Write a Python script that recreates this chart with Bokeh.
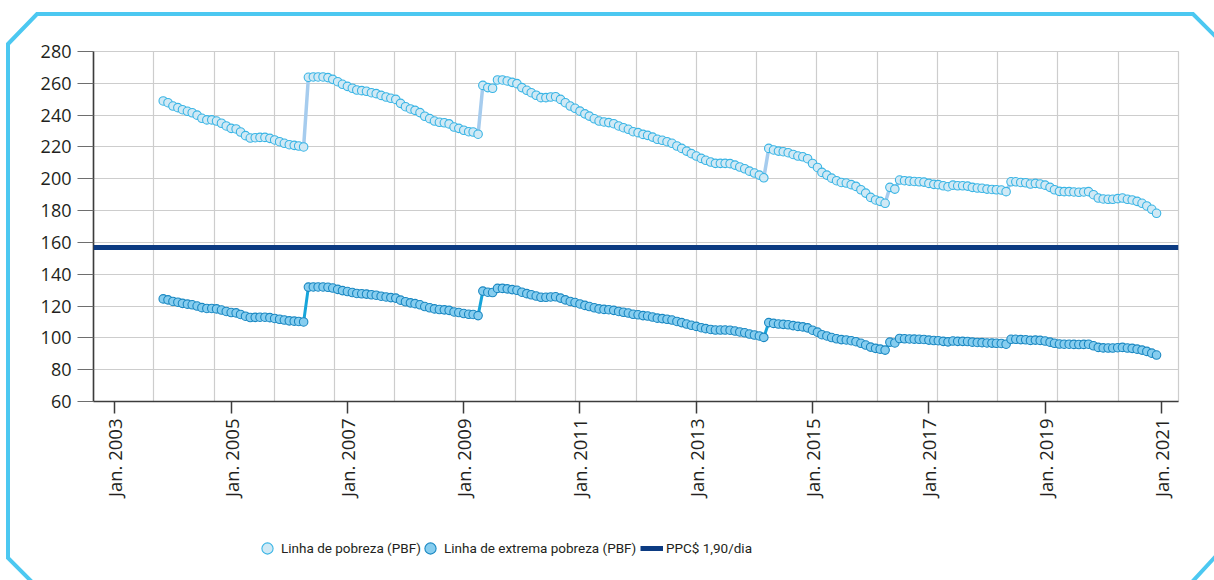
import math
import pandas as pd
from bokeh.plotting import figure
from bokeh.layouts import column
from bokeh.models import (FixedTicker, DatetimeTickFormatter, Range1d, Span,
                          Legend, LegendItem, InlineStyleSheet)
from bokeh.embed import file_html
from bokeh.resources import INLINE

# ---------------- data ----------------
start_month = "2003-11-01"   # first monthly observation

linha_pobreza = [
    248.9, 247.8, 245.7, 244.7, 243.4, 242.4, 241.5, 240.0, 238.0, 237.0,
    237.0, 236.3, 234.9, 233.2, 231.7, 231.3, 229.4, 227.1, 225.6, 225.8,
    226.0, 226.0, 225.4, 224.4, 223.3, 222.3, 221.4, 221.0, 220.6, 220.0,
    263.8, 264.0, 264.0, 264.0, 263.6, 262.5, 261.0, 259.4, 258.1, 256.9,
    255.8, 255.4, 255.0, 254.1, 253.5, 252.4, 251.4, 250.6, 249.9, 247.4,
    245.3, 243.9, 243.0, 241.6, 239.3, 237.8, 236.3, 235.5, 235.2, 234.5,
    232.5, 231.7, 230.5, 229.6, 229.4, 228.0,
    258.7, 257.3, 256.9, 262.1, 262.1, 261.5, 260.6, 259.8, 257.3, 255.6,
    254.1, 252.5, 251.0, 251.0, 251.4, 251.6, 249.9, 247.8, 245.7, 244.3,
    242.5, 240.8, 239.4, 237.7, 236.3, 235.7, 235.3, 234.6, 233.2, 232.1,
    231.1, 229.6, 229.0, 227.9, 227.3, 226.2, 224.8, 224.2, 223.3, 222.3,
    220.6, 219.1, 217.4, 215.8, 214.3, 212.8, 211.6, 210.5, 209.7, 209.7,
    209.7, 209.5, 208.6, 207.4, 206.3, 204.8, 203.6, 202.3, 200.6,
    219.1, 218.1, 217.4, 217.0, 216.4, 215.3, 214.3, 213.8, 212.6, 209.6,
    207.1, 204.0, 202.3, 200.4, 198.8, 197.7, 197.3, 196.3, 195.2, 193.1,
    191.0, 188.3, 186.7, 185.8, 184.6,
    194.6, 193.5, 199.2, 198.8, 198.5, 198.3, 198.1, 197.9, 197.1, 196.5,
    196.3, 195.6, 195.0, 196.0, 195.6, 195.6, 195.4, 194.6, 194.2, 194.0,
    193.5, 193.3, 193.1, 192.9, 191.9,
    198.1, 198.1, 197.7, 197.5, 196.7, 197.1, 196.7, 196.0, 194.6, 193.1,
    192.1, 191.9, 191.9, 191.7, 191.5, 191.7, 191.9, 190.0, 187.9, 187.3,
    187.1, 187.1, 187.5, 187.9, 187.1, 186.7, 185.8, 184.6, 182.9, 180.8,
    178.3,
]

linha_extrema_pobreza = [
    124.5, 123.9, 122.9, 122.4, 121.7, 121.2, 120.8, 120.0, 119.0, 118.5,
    118.5, 118.2, 117.5, 116.6, 115.9, 115.7, 114.7, 113.6, 112.8, 112.9,
    113.0, 113.0, 112.7, 112.2, 111.7, 111.2, 110.7, 110.5, 110.3, 110.0,
    131.9, 132.0, 132.0, 132.0, 131.8, 131.3, 130.5, 129.7, 129.1, 128.5,
    127.9, 127.7, 127.5, 127.1, 126.8, 126.2, 125.7, 125.3, 125.0, 123.7,
    122.7, 122.0, 121.5, 120.8, 119.7, 118.9, 118.2, 117.8, 117.6, 117.3,
    116.3, 115.9, 115.3, 114.8, 114.7, 114.0,
    129.4, 128.7, 128.5, 131.1, 131.1, 130.8, 130.3, 129.9, 128.7, 127.8,
    127.1, 126.3, 125.5, 125.5, 125.7, 125.8, 125.0, 123.9, 122.9, 122.2,
    121.3, 120.4, 119.7, 118.9, 118.2, 117.9, 117.7, 117.3, 116.6, 116.1,
    115.6, 114.8, 114.5, 114.0, 113.7, 113.1, 112.4, 112.1, 111.7, 111.2,
    110.3, 109.6, 108.7, 107.9, 107.2, 106.4, 105.8, 105.3, 104.9, 104.9,
    104.9, 104.8, 104.3, 103.7, 103.2, 102.4, 101.8, 101.2, 100.3,
    109.6, 109.1, 108.7, 108.5, 108.2, 107.7, 107.2, 106.9, 106.3, 104.8,
    103.6, 102.0, 101.2, 100.2, 99.4, 98.9, 98.7, 98.2, 97.6, 96.6,
    95.5, 94.2, 93.4, 92.9, 92.3,
    97.3, 96.8, 99.6, 99.4, 99.3, 99.2, 99.1, 99.0, 98.6, 98.3,
    98.2, 97.8, 97.5, 98.0, 97.8, 97.8, 97.7, 97.3, 97.1, 97.0,
    96.8, 96.7, 96.6, 96.5, 96.0,
    99.1, 99.1, 98.9, 98.8, 98.4, 98.6, 98.4, 98.0, 97.3, 96.6,
    96.1, 96.0, 96.0, 95.9, 95.8, 95.9, 96.0, 95.0, 94.0, 93.7,
    93.6, 93.6, 93.8, 94.0, 93.6, 93.4, 92.9, 92.3, 91.5, 90.4,
    89.2,
]

ppc_190_dia = 156.8

y_ticks = [60, 80, 100, 120, 140, 160, 180, 200, 220, 240, 260, 280]
x_tick_years = [2003, 2005, 2007, 2009, 2011, 2013, 2015, 2017, 2019, 2021]
x_tick_label_fmt = "Jan. %Y"

series_labels = ["Linha de pobreza (PBF)",
                 "Linha de extrema pobreza (PBF)",
                 "PPC$ 1,90/dia"]

assert len(linha_pobreza) == len(linha_extrema_pobreza)

# ---------------- layout / style ----------------
FONT = "Open Sans"
LEG_FONT = "Roboto"
TXT = "#231F20"

POB_LINE, POB_FILL, POB_EDGE = "#A6CCEE", "#D0E9F5", "#3AB5E5"
EXT_LINE, EXT_FILL, EXT_EDGE = "#17A5DA", "#86CDEF", "#1A88C2"
PPC_COLOR = "#0C3B82"

dates = pd.date_range(start_month, periods=len(linha_pobreza), freq="MS")

x_start = pd.Timestamp("2002-08-20")
x_end = pd.Timestamp("2021-04-18")

def ms(ts):
    return ts.value / 1e6

MAIN_H = 530
p = figure(width=1214, height=MAIN_H, x_axis_type="datetime",
           x_range=Range1d(start=x_start, end=x_end),
           y_range=Range1d(start=y_ticks[0], end=y_ticks[-1]),
           output_backend="svg", toolbar_location=None,
           min_border_left=93, min_border_right=36,
           min_border_top=51, min_border_bottom=MAIN_H - 51 - 350)

p.background_fill_color = "white"
p.border_fill_alpha = 0
p.outline_line_color = "#CDCDCD"
p.outline_line_width = 1.2

# grid
p.yaxis.ticker = FixedTicker(ticks=y_ticks)
n_grid = 18
span_ms = ms(x_end) - ms(x_start)
p.xgrid.ticker = FixedTicker(ticks=[ms(x_start) + k * span_ms / n_grid
                                    for k in range(1, n_grid)])
p.grid.grid_line_color = "#CDCDCD"
p.grid.grid_line_width = 1.2

# x axis
p.xaxis.ticker = FixedTicker(ticks=[ms(pd.Timestamp(f"{y}-01-01")) for y in x_tick_years])
p.xaxis.formatter = DatetimeTickFormatter(
    years=x_tick_label_fmt, months=x_tick_label_fmt, days=x_tick_label_fmt,
    hours=x_tick_label_fmt, minutes=x_tick_label_fmt)
p.xaxis.major_label_orientation = math.pi / 2
p.xaxis.axis_line_color = "#3C3C3C"
p.xaxis.axis_line_width = 1.6
p.xaxis.major_tick_line_color = "#3C3C3C"
p.xaxis.major_tick_line_width = 1.5
p.xaxis.major_tick_out = 12
p.xaxis.major_tick_in = 0
p.xaxis.minor_tick_line_color = None
p.xaxis.major_label_standoff = 5
p.xaxis.major_label_text_font = FONT
p.xaxis.major_label_text_font_size = "18.5px"
p.xaxis.major_label_text_color = TXT

# y axis
p.yaxis.axis_line_color = "#3C3C3C"
p.yaxis.axis_line_width = 1.6
p.yaxis.major_tick_line_color = "#6E6E6E"
p.yaxis.major_tick_line_width = 1.2
p.yaxis.major_tick_out = 16
p.yaxis.major_tick_in = 0
p.yaxis.minor_tick_line_color = None
p.yaxis.major_label_standoff = 6
p.yaxis.major_label_text_font = FONT
p.yaxis.major_label_text_font_size = "18px"
p.yaxis.major_label_text_color = TXT

# series
p.line(dates, linha_pobreza, line_color=POB_LINE, line_width=3.5)
p.scatter(dates, linha_pobreza, size=8.5, marker="circle",
          fill_color=POB_FILL, line_color=POB_EDGE, line_width=1.1)
p.line(dates, linha_extrema_pobreza, line_color=EXT_LINE, line_width=3)
p.scatter(dates, linha_extrema_pobreza, size=8.5, marker="circle",
          fill_color=EXT_FILL, line_color=EXT_EDGE, line_width=1.1)
p.add_layout(Span(location=ppc_190_dia, dimension="width",
                  line_color=PPC_COLOR, line_width=5))

# ---------------- legend strip below the chart ----------------
# (its own renderers reuse the series, but lie outside this strip's ranges)
LEG_H = 580 - MAIN_H
leg = figure(width=1214, height=LEG_H, output_backend="svg", toolbar_location=None,
             x_range=Range1d(0, 1), y_range=Range1d(0, 1),
             x_axis_location=None, y_axis_location=None,
             min_border_left=0, min_border_right=0,
             min_border_top=0, min_border_bottom=0)
leg.grid.visible = False
leg.outline_line_color = None
leg.background_fill_alpha = 0
leg.border_fill_alpha = 0

k_pob = leg.scatter(dates, linha_pobreza, size=11, marker="circle",
                    fill_color=POB_FILL, line_color=POB_EDGE, line_width=1.1)
k_ext = leg.scatter(dates, linha_extrema_pobreza, size=11, marker="circle",
                    fill_color=EXT_FILL, line_color=EXT_EDGE, line_width=1.1)
k_ppc = leg.line(dates, [ppc_190_dia] * len(dates), line_color=PPC_COLOR,
                 line_width=5)

legend_slots = [  # (renderer, x offset, glyph width, label standoff)
    (k_pob, 160, 28, -6),
    (k_ext, 323, 28, -6),
    (k_ppc, 547, 23, 3),
]
for (rend, x_off, gw, standoff), label in zip(legend_slots, series_labels):
    leg.add_layout(Legend(items=[LegendItem(label=label, renderers=[rend])],
                          orientation="horizontal", location=(x_off, 18),
                          border_line_color=None, background_fill_alpha=0,
                          padding=0, margin=0,
                          glyph_width=gw, glyph_height=28,
                          label_standoff=standoff,
                          label_text_font=LEG_FONT,
                          label_text_font_size="13.5px",
                          label_text_color=TXT))

# decorative cyan frame with cut corners drawn behind both canvases
frame_svg = ("<svg xmlns='http://www.w3.org/2000/svg' width='1214' height='580'>"
             "<polygon points='8,44 37,14 1193,14 1216,37 1216,556 1192,582 32,582 8,558' "
             "fill='white' stroke='%234CC8F1' stroke-width='4'/></svg>")

layout = column(p, leg, spacing=0)
layout.stylesheets = [InlineStyleSheet(css=(
    ':host { background-image: url("data:image/svg+xml;utf8,' + frame_svg + '"); '
    'background-repeat: no-repeat; background-position: 0 0; }'))]

open("out.html", "w").write(file_html(layout, INLINE))
